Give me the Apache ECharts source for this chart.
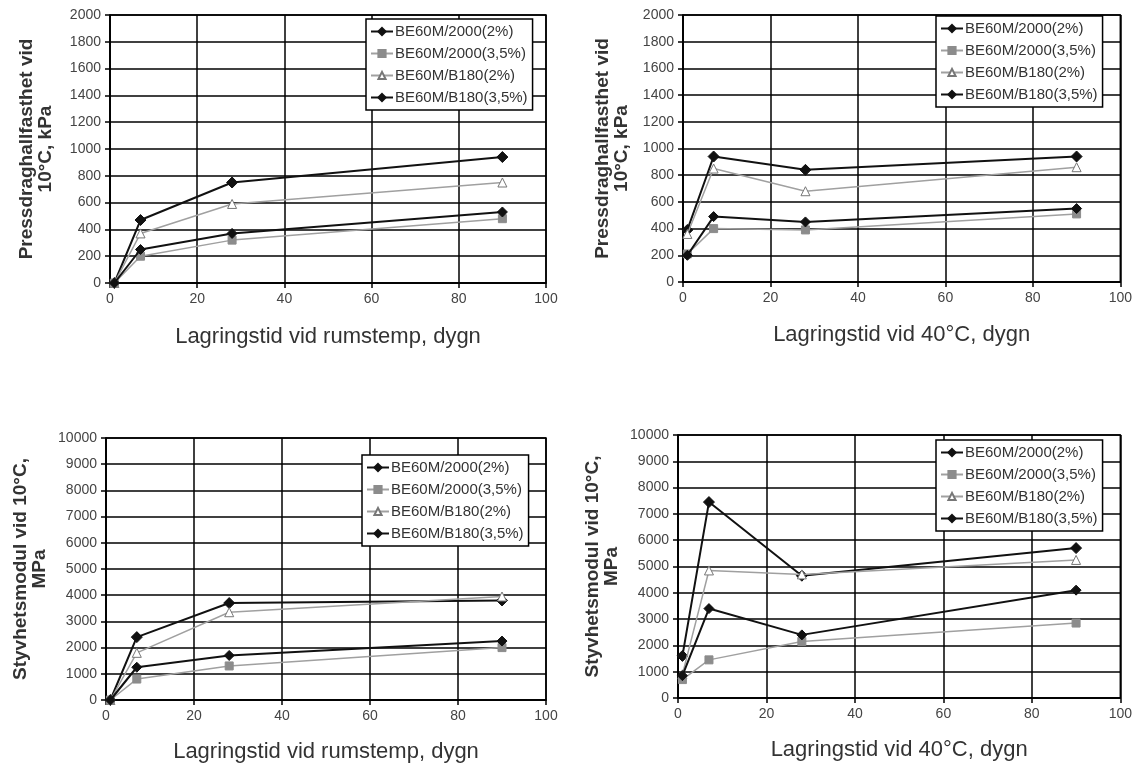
<!DOCTYPE html>
<html>
<head>
<meta charset="utf-8">
<script src="https://cdn.jsdelivr.net/npm/echarts@6/dist/echarts.min.js"></script>
<style>
  html, body { margin: 0; padding: 0; background: #fff; }
  #chart { width: 1135px; height: 769px; }
</style>
</head>
<body>
<div id="chart"></div>
<script>
// lagringstid, dygn
const days = [1, 7, 28, 90];
const seriesNames = ['BE60M/2000(2%)', 'BE60M/2000(3,5%)', 'BE60M/B180(2%)', 'BE60M/B180(3,5%)'];

// Pressdraghållfasthet, rumstemp
const pressRum2000_2 = [0, 250, 370, 530];
const pressRum2000_35 = [0, 200, 320, 480];
const pressRumB180_2 = [0, 370, 590, 750];
const pressRumB180_35 = [0, 470, 750, 940];

// Pressdraghållfasthet, 40°C
const press40_2000_2 = [200, 490, 450, 550];
const press40_2000_35 = [210, 400, 390, 510];
const press40_B180_2 = [360, 850, 680, 860];
const press40_B180_35 = [390, 940, 840, 940];

// Styvhetsmodul, rumstemp
const styvRum2000_2 = [0, 1250, 1700, 2250];
const styvRum2000_35 = [0, 800, 1300, 2000];
const styvRumB180_2 = [0, 1800, 3350, 3950];
const styvRumB180_35 = [0, 2400, 3700, 3800];

// Styvhetsmodul, 40°C
const styv40_2000_2 = [850, 3400, 2400, 4100];
const styv40_2000_35 = [700, 1450, 2150, 2850];
const styv40_B180_2 = [900, 4850, 4700, 5250];
const styv40_B180_35 = [1600, 7450, 4650, 5700];

const panels = [
  { grid: { left: 110, right: 589, top: 15, height: 268 }, yMax: 2000, yInt: 200, yGap: 55, xGap: 43,
    yName: 'Pressdraghallfasthet vid\n10°C, kPa', xName: 'Lagringstid vid rumstemp, dygn',
    legend: { left: 366, top: 19 },
    data: [pressRum2000_2, pressRum2000_35, pressRumB180_2, pressRumB180_35] },
  { grid: { left: 683, right: 13, top: 15, height: 267 }, yMax: 2000, yInt: 200, yGap: 52, xGap: 42,
    yName: 'Pressdraghallfasthet vid\n10°C, kPa', xName: 'Lagringstid vid 40°C, dygn',
    legend: { left: 936, top: 16 },
    data: [press40_2000_2, press40_2000_35, press40_B180_2, press40_B180_35] },
  { grid: { left: 106, right: 589, top: 438, height: 262 }, yMax: 10000, yInt: 1000, yGap: 57, xGap: 41,
    yName: 'Styvhetsmodul vid 10°C,\nMPa', xName: 'Lagringstid vid rumstemp, dygn',
    legend: { left: 362, top: 455 },
    data: [styvRum2000_2, styvRum2000_35, styvRumB180_2, styvRumB180_35] },
  { grid: { left: 678, right: 13, top: 435, height: 263 }, yMax: 10000, yInt: 1000, yGap: 57, xGap: 41,
    yName: 'Styvhetsmodul vid 10°C,\nMPa', xName: 'Lagringstid vid 40°C, dygn',
    legend: { left: 936, top: 440 },
    data: [styv40_2000_2, styv40_2000_35, styv40_B180_2, styv40_B180_35] }
];

const styles = [
  { symbol: 'diamond', symbolSize: 10, line: '#111', width: 2, fill: '#111', border: '#111' },
  { symbol: 'rect', symbolSize: 8, line: '#a0a0a0', width: 1.5, fill: '#8c8c8c', border: '#8c8c8c' },
  { symbol: 'triangle', symbolSize: 9, line: '#a0a0a0', width: 1.5, fill: '#fff', border: '#777' },
  { symbol: 'diamond', symbolSize: 11, line: '#111', width: 2, fill: '#111', border: '#111' }
];

const font = 'Liberation Sans, Arial, sans-serif';

const option = {
  backgroundColor: '#fff',
  animation: false,
  grid: panels.map(p => Object.assign({ containLabel: false, show: true, backgroundColor: '#fff', borderColor: '#000', borderWidth: 1.5 }, p.grid)),
  xAxis: panels.map((p, i) => ({
    type: 'value', gridIndex: i, min: 0, max: 100, interval: 20,
    name: p.xName, nameLocation: 'middle', nameGap: p.xGap,
    nameTextStyle: { fontFamily: font, fontSize: 22, color: '#333' },
    axisLine: { show: true, lineStyle: { color: '#000', width: 1.5 } },
    axisTick: { show: true, length: 5, lineStyle: { color: '#000', width: 1.5 } },
    axisLabel: { fontFamily: font, fontSize: 14, color: '#444', margin: 9 },
    splitLine: { show: true, lineStyle: { color: '#000', width: 1.5 } }
  })),
  yAxis: panels.map((p, i) => ({
    type: 'value', gridIndex: i, min: 0, max: p.yMax, interval: p.yInt,
    name: p.yName, nameLocation: 'middle', nameGap: p.yGap, nameRotate: 90,
    nameTextStyle: { fontFamily: font, fontSize: 19, fontWeight: 'bold', color: '#333', lineHeight: 19 },
    axisLine: { show: true, lineStyle: { color: '#000', width: 1.5 } },
    axisTick: { show: true, length: 5, lineStyle: { color: '#000', width: 1.5 } },
    axisLabel: { fontFamily: font, fontSize: 14, color: '#444', margin: 9, formatter: v => String(v) },
    splitLine: { show: true, lineStyle: { color: '#000', width: 1.5 } }
  })),
  legend: panels.map(p => ({
    left: p.legend.left, top: p.legend.top, orient: 'vertical',
    data: seriesNames,
    backgroundColor: '#fff', borderColor: '#000', borderWidth: 1.5,
    padding: [4, 5, 4, 4], itemGap: 5, itemWidth: 22, itemHeight: 9,
    textStyle: { fontFamily: font, fontSize: 15, color: '#333', lineHeight: 17, padding: [0, 0, 0, -3] }
  })),
  series: []
};

panels.forEach((p, i) => {
  p.data.forEach((vals, k) => {
    const s = styles[k];
    option.series.push({
      name: seriesNames[k], type: 'line', xAxisIndex: i, yAxisIndex: i,
      data: days.map((d, j) => [d, vals[j]]),
      symbol: s.symbol, symbolSize: s.symbolSize, showAllSymbol: true,
      lineStyle: { color: s.line, width: s.width },
      itemStyle: { color: s.fill, borderColor: s.border, borderWidth: 1 },
      z: 10 - k
    });
  });
});

const chart = echarts.init(document.getElementById('chart'));
chart.setOption(option);
</script>
</body>
</html>
